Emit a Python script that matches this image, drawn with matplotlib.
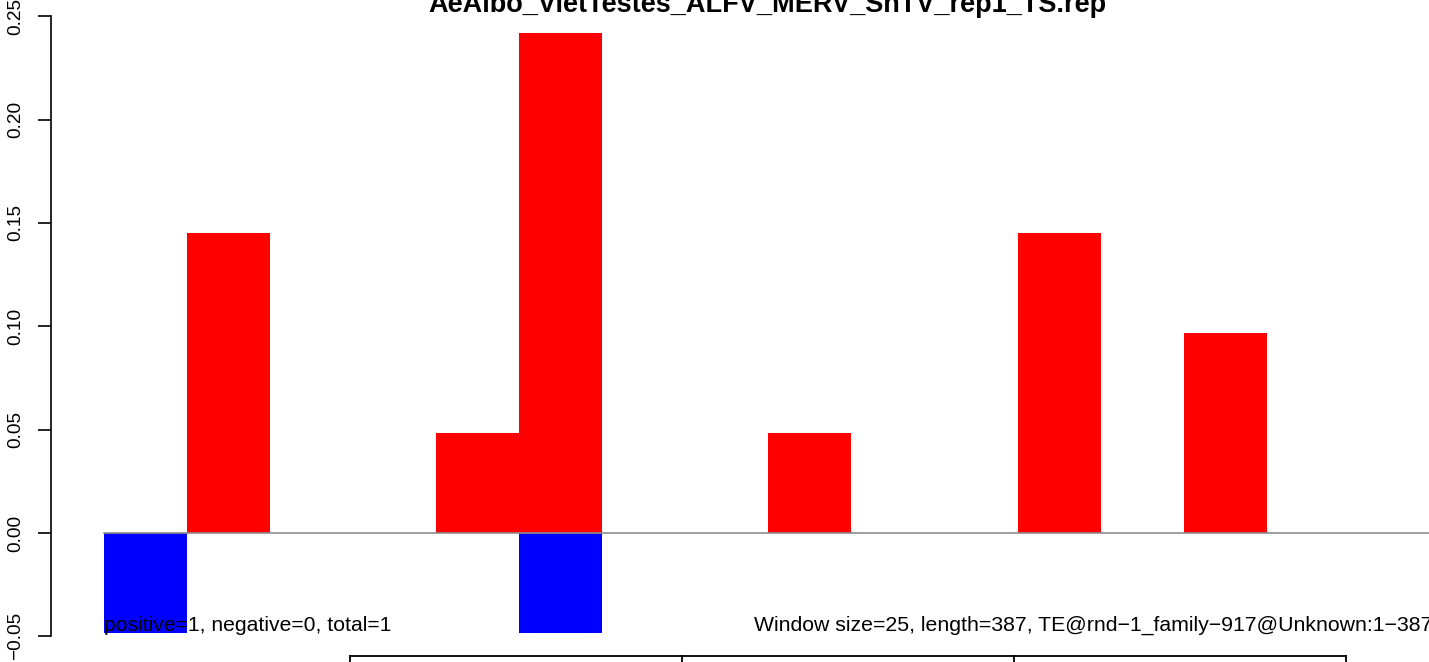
import matplotlib
matplotlib.use('Agg')
import matplotlib.pyplot as plt
import numpy as np

plt.rcParams['font.family'] = ['Liberation Sans', 'DejaVu Sans']
plt.rcParams['axes.unicode_minus'] = True

# Datos por ventana (tamaño 25, longitud 387)
window_size = 25
seq_length = 387
window_start = np.arange(0, seq_length, window_size)
pos_vals = [0.0, 0.1452, 0.0, 0.0, 0.0484, 0.2419, 0.0, 0.0,
            0.0484, 0.0, 0.0, 0.1452, 0.0, 0.0968, 0.0, 0.0]
neg_vals = [-0.0484, 0.0, 0.0, 0.0, 0.0, -0.0484, 0.0, 0.0,
            0.0, 0.0, 0.0, 0.0, 0.0, 0.0, 0.0, 0.0]
y_ticks = [-0.05, 0.00, 0.05, 0.10, 0.15, 0.20, 0.25]
y_ticklabels = ['\u22120.05', '0.00', '0.05', '0.10', '0.15', '0.20', '0.25']
x_segments = [74.0, 174.0, 274.0, 373.8]

title = 'AeAlbo_VietTestes_ALFV_MERV_ShTV_rep1_TS.rep'
left_note = 'positive=1, negative=0, total=1'
right_note = 'Window size=25, length=387, TE@rnd\u22121_family\u2212917@Unknown:1\u2212387'

W, H = 1429, 662
fig = plt.figure(figsize=(W / 100, H / 100), dpi=100)
ax = fig.add_axes([0, 0, 1, 1])

# conversión de píxeles a datos
x0_px, px_nt = 103.6, 3.324
y0_px, px_unit = 533.0, 2066.7
ax.set_xlim((0 - x0_px) / px_nt, (W - x0_px) / px_nt)
ax.set_ylim((y0_px - H) / px_unit, y0_px / px_unit)

ax.bar(window_start, pos_vals, width=window_size, align='edge', color='red', linewidth=0)
ax.bar(window_start, neg_vals, width=window_size, align='edge', color='blue', linewidth=0)
ax.axhline(0, xmin=(x0_px) / W, xmax=1, color='#8c8c8c', linewidth=1.2, zorder=3)

for s in ['top', 'right', 'bottom']:
    ax.spines[s].set_visible(False)
ax.spines['left'].set_position(('data', (51 - x0_px) / px_nt))
ax.spines['left'].set_bounds(-0.05, 0.25)
ax.spines['left'].set_linewidth(1.2)
ax.set_xticks([])
ax.set_yticks(y_ticks)
ax.set_yticklabels(y_ticklabels, rotation=90, va='center', fontsize=13.7)
ax.tick_params(axis='y', direction='out', length=9.5, width=1.2, pad=10)

# eje inferior (recortado)
y_seg = (y0_px - 656) / px_unit
ax.plot([x_segments[0], x_segments[-1]], [y_seg, y_seg], color='black', lw=1.3, clip_on=False)
for xs in x_segments:
    ax.plot([xs, xs], [y_seg, y_seg - 0.02], color='black', lw=1.3, clip_on=False)

ax.text(0, (y0_px - 631) / px_unit, left_note, fontsize=15.2, ha='left', va='baseline', zorder=5)
ax.text((1432 - x0_px) / px_nt, (y0_px - 631) / px_unit, right_note, fontsize=15.3,
        ha='right', va='baseline', zorder=5)
ax.text((767 - x0_px) / px_nt, (y0_px - 12) / px_unit, title, fontsize=19.5,
        fontweight='bold', ha='center', va='baseline')

fig.savefig('out.png', dpi=100)
